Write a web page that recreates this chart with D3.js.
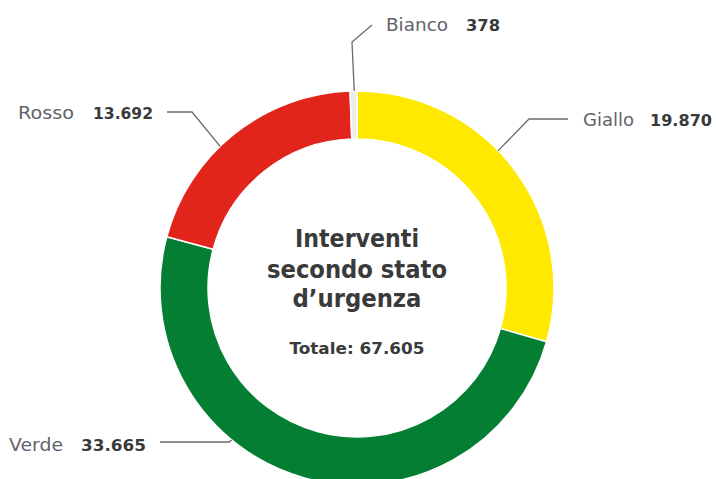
<!DOCTYPE html>
<html><head><meta charset="utf-8">
<script src="https://cdn.jsdelivr.net/npm/d3@7"></script>
<style>
html,body{margin:0;padding:0;background:#fff;}
svg{display:block;font-family:"DejaVu Sans",sans-serif;}
</style></head>
<body>
<svg id="c" width="716" height="479"></svg>
<script>
// Data
const categories = ["Giallo", "Verde", "Rosso", "Bianco"];
const values = [19870, 33665, 13692, 378];
const valueLabels = ["19.870", "33.665", "13.692", "378"];
const colors = ["#FFE900", "#047E33", "#E1251B", "#EDEDED"];
const titleLines = ["Interventi", "secondo stato", "d\u2019urgenza"];
const totalLabel = "Totale: 67.605";

// Layout (label placement)
const cx = 357, cy = 288, rOuter = 197, rInner = 149;
const labelLayout = {
  Giallo: {angle: 45.8, elbow: [529, 119], end: [568, 119], name: [583, 125.5, 51], val: [650, 125.5, 62]},
  Verde:  {angle: 219.5, elbow: [229, 442], end: [160, 442], name: [9, 450.5, 54], val: [81, 450.5, 65]},
  Rosso:  {angle: 316, elbow: [192, 112], end: [167, 112], name: [18, 118.5, 56], val: [93, 118.5, 60]},
  Bianco: {angle: 359.2, elbow: [352, 42], end: [372, 25], name: [386, 30.5, 62], val: [466, 30.5, 34]}
};
const titleLayout = [[247, 124], [277.5, 180], [307, 129]];
const totalLayout = [354, 135];

const svg = d3.select("#c");
const g = svg.append("g").attr("transform", `translate(${cx},${cy})`);

const data = categories.map((c, i) => ({name: c, value: values[i], label: valueLabels[i], color: colors[i]}));
const pie = d3.pie().sort(null).value(d => d.value).startAngle(0).endAngle(2 * Math.PI);
const arc = d3.arc().innerRadius(rInner).outerRadius(rOuter);

g.selectAll("path.slice").data(pie(data)).join("path")
  .attr("class", "slice")
  .attr("d", arc)
  .attr("fill", d => d.data.color)
  .attr("stroke", "#fff")
  .attr("stroke-width", 1.5);

// Leaders and labels
data.forEach(d => {
  const L = labelLayout[d.name];
  const a = L.angle * Math.PI / 180;
  const ax = cx + rOuter * Math.sin(a), ay = cy - rOuter * Math.cos(a);
  svg.append("polyline")
    .attr("points", [[ax, ay], L.elbow, L.end].map(p => p.join(",")).join(" "))
    .attr("fill", "none").attr("stroke", "#6b6b6b").attr("stroke-width", 1.3);
  svg.append("text").attr("x", L.name[0]).attr("y", L.name[1])
    .attr("textLength", L.name[2]).attr("lengthAdjust", "spacingAndGlyphs")
    .attr("font-size", 18).attr("fill", "#62626c").attr("font-weight", 400)
    .text(d.name);
  svg.append("text").attr("x", L.val[0]).attr("y", L.val[1])
    .attr("textLength", L.val[2]).attr("lengthAdjust", "spacingAndGlyphs")
    .attr("font-size", 16).attr("fill", "#3a3a3a").attr("font-weight", 700)
    .text(d.label);
});

// Centre title
titleLines.forEach((t, i) => {
  svg.append("text").attr("x", cx).attr("y", titleLayout[i][0])
    .attr("textLength", titleLayout[i][1]).attr("lengthAdjust", "spacingAndGlyphs")
    .attr("text-anchor", "middle").attr("font-size", 24).attr("font-weight", 700)
    .attr("fill", "#3a3a3a").text(t);
});
svg.append("text").attr("x", cx).attr("y", totalLayout[0])
  .attr("textLength", totalLayout[1]).attr("lengthAdjust", "spacingAndGlyphs")
  .attr("text-anchor", "middle").attr("font-size", 15.5).attr("font-weight", 700)
  .attr("fill", "#3a3a3a").text(totalLabel);
</script>
</body></html>
